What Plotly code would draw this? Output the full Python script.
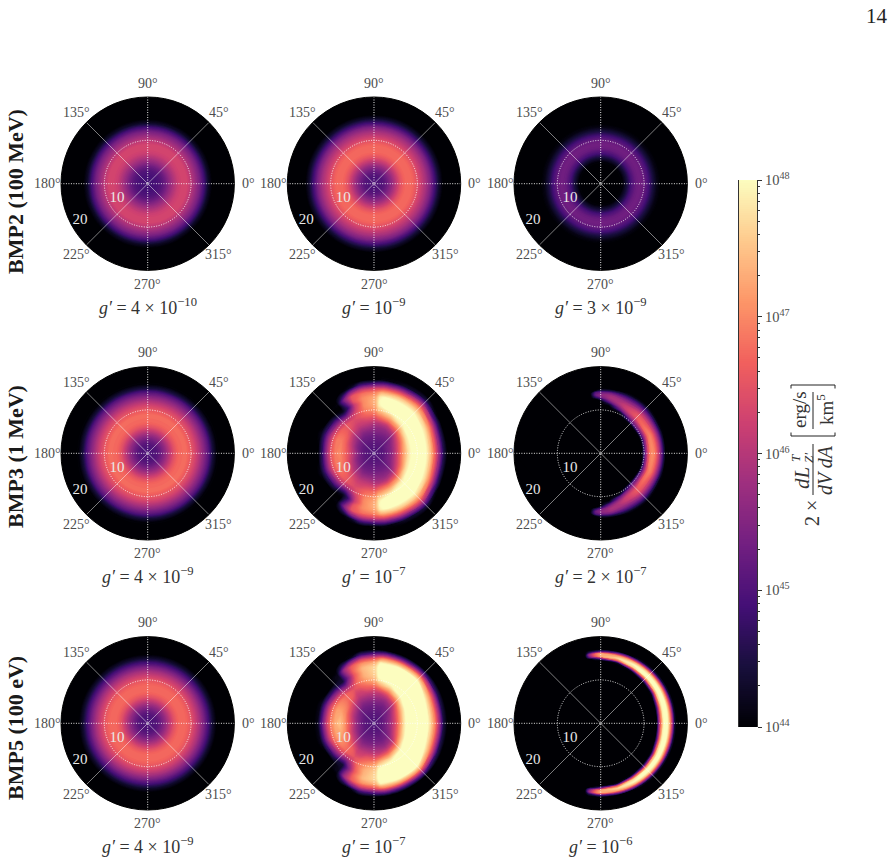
import numpy as np
import plotly.graph_objects as go

W, H = 893, 860
RMAX = 20
RADIUS_PX = 86.7
LABEL_DIST_PX = 100.5
COL_X = [147.7, 374.0, 600.7]
ROW_Y = [183.7, 453.3, 723.3]

ROW_LABELS = ["BMP2 (100 MeV)", "BMP3 (1 MeV)", "BMP5 (100 eV)"]
ROW_LABEL_Y = [192, 457, 728]
COUPLINGS = [
    ["4 × 10<sup>−10</sup>", "10<sup>−9</sup>", "3 × 10<sup>−9</sup>"],
    ["4 × 10<sup>−9</sup>", "10<sup>−7</sup>", "2 × 10<sup>−7</sup>"],
    ["4 × 10<sup>−9</sup>", "10<sup>−7</sup>", "10<sup>−6</sup>"],
]
ANGLE_TICKS = [0, 45, 90, 135, 180, 225, 270, 315]

# Radial nodes and log10 luminosity density for the ring-shaped panels
R_RING = [0.1, 1, 2, 3, 4, 5, 6, 7, 8, 9, 10, 11, 12, 13, 14, 15, 16, 17, 20]
RING_BMP2_A = [44.9, 44.9, 44.95, 45.05, 45.3, 45.65, 45.95, 46.2, 46.3, 46.3, 46.05, 45.75, 45.4, 44.9, 44.3, 44, 44, 44, 44]
RING_BMP2_B = [45, 45, 45.05, 45.3, 45.65, 46.05, 46.45, 46.7, 46.75, 46.7, 46.45, 46.15, 45.85, 45.45, 44.9, 44.35, 44, 44, 44]
RING_BMP2_C = [44, 44, 44, 44, 44, 44.05, 44.45, 44.95, 45.25, 45.35, 45.25, 44.95, 44.5, 44.15, 44, 44, 44, 44, 44]
RING_BMP3_A = [45, 45, 45.05, 45.3, 45.65, 46.05, 46.45, 46.7, 46.75, 46.75, 46.55, 46.3, 45.95, 45.55, 45.1, 44.45, 44.05, 44, 44]
RING_BMP5_A = [45, 45, 45.05, 45.3, 45.65, 46.05, 46.45, 46.7, 46.75, 46.7, 46.5, 46.2, 45.85, 45.4, 44.9, 44.35, 44, 44, 44]
THETA_RING = [0, 15, 30, 45, 60, 75, 90, 105, 120, 135, 150, 165, 180]

# Crescent panels: one row per angle (upper half, the lower half mirrors it)
R_WIDE = [0.1, 2, 3, 4, 5, 6, 7, 8, 9, 10, 11, 12, 13, 14, 15, 16, 17, 18, 20]
THETA_WIDE = [0, 25, 45, 65, 80, 84, 88, 102, 112, 120, 127, 140, 160, 180]
BMP3_B = [
    [45, 45.1, 45.3, 45.6, 46.1, 46.7, 47.3, 47.8, 48.1, 48.2, 48.2, 48.0, 47.5, 46.7, 45.7, 44.6, 44, 44, 44],
    [45, 45.1, 45.3, 45.5, 45.9, 46.4, 47.0, 47.7, 48.1, 48.2, 48.2, 48.1, 47.7, 47.0, 46.0, 44.8, 44, 44, 44],
    [45, 45.1, 45.2, 45.3, 45.5, 45.9, 46.5, 47.2, 47.85, 48.1, 48.15, 48.15, 48.0, 47.5, 46.8, 45.8, 44.6, 44, 44],
    [45, 45.1, 45.2, 45.3, 45.5, 45.7, 46.1, 46.8, 47.4, 47.95, 48.15, 48.15, 48.0, 47.5, 46.6, 45.5, 44.3, 44, 44],
    [45, 45.1, 45.2, 45.3, 45.5, 45.7, 46, 46.6, 47.1, 47.6, 48, 48.05, 48, 47.4, 46.5, 45.3, 44.1, 44, 44],
    [45, 45.1, 45.2, 45.3, 45.5, 45.7, 46, 46.5, 47, 47.5, 47.85, 47.95, 47.85, 47.3, 46.4, 45.2, 44.1, 44, 44],
    [45, 45.1, 45.2, 45.3, 45.5, 45.7, 46, 46.4, 46.8, 47.1, 47.3, 47.4, 47.3, 47.0, 46.3, 45.1, 44, 44, 44],
    [45, 45.1, 45.2, 45.3, 45.5, 45.8, 46.1, 46.4, 46.7, 46.9, 47.0, 47.0, 47.0, 46.8, 46.1, 44.9, 44, 44, 44],
    [45, 45.1, 45.2, 45.3, 45.5, 45.8, 46.1, 46.3, 46.5, 46.5, 46.3, 46.2, 46.5, 46.5, 45.6, 44.2, 44, 44, 44],
    [45, 45.1, 45.2, 45.3, 45.5, 45.8, 46.1, 46.3, 46.4, 46.2, 45.5, 44.8, 45.1, 45.4, 44.6, 44, 44, 44, 44],
    [45, 45.1, 45.2, 45.3, 45.6, 45.9, 46.2, 46.4, 46.45, 46, 45, 44.2, 44.0, 44.1, 44, 44, 44, 44, 44],
    [45, 45.1, 45.2, 45.4, 45.7, 46, 46.4, 46.6, 46.6, 46.2, 45.4, 44.6, 44, 44, 44, 44, 44, 44, 44],
    [45, 45.1, 45.25, 45.5, 45.9, 46.3, 46.7, 46.9, 46.9, 46.5, 45.8, 44.9, 44.2, 44, 44, 44, 44, 44, 44],
    [45, 45.1, 45.3, 45.7, 46.1, 46.5, 46.8, 47, 46.9, 46.5, 45.7, 44.7, 44, 44, 44, 44, 44, 44, 44],
]
BMP5_B = [
    [45, 45.2, 45.5, 45.9, 46.4, 47.1, 47.8, 48.3, 48.6, 48.7, 48.6, 48.2, 47.7, 47, 45.9, 44.5, 44, 44, 44],
    [45, 45.2, 45.4, 45.7, 46.2, 46.8, 47.5, 48.1, 48.5, 48.7, 48.7, 48.4, 47.9, 47.2, 46.1, 44.7, 44, 44, 44],
    [45, 45.1, 45.3, 45.4, 45.7, 46.1, 46.8, 47.6, 48.2, 48.5, 48.6, 48.6, 48.4, 48, 47, 45.4, 44, 44, 44],
    [45, 45.1, 45.2, 45.3, 45.5, 45.8, 46.3, 47, 47.7, 48.2, 48.5, 48.6, 48.5, 48, 47, 45.3, 44, 44, 44],
    [45, 45.1, 45.2, 45.3, 45.5, 45.8, 46.1, 46.7, 47.4, 47.9, 48.2, 48.3, 48.3, 47.9, 47, 45.4, 44, 44, 44],
    [45, 45.1, 45.2, 45.3, 45.5, 45.8, 46.1, 46.6, 47.2, 47.8, 48.1, 48.2, 48.2, 47.9, 46.9, 45.3, 44, 44, 44],
    [45, 45.1, 45.2, 45.3, 45.5, 45.8, 46.1, 46.5, 47, 47.4, 47.6, 47.7, 47.7, 47.4, 46.6, 45.2, 44, 44, 44],
    [45, 45.1, 45.2, 45.3, 45.5, 45.8, 46.1, 46.5, 46.8, 47.1, 47.3, 47.35, 47.4, 47.1, 46.3, 44.9, 44, 44, 44],
    [45, 45.1, 45.2, 45.3, 45.5, 45.8, 46.1, 46.3, 46.6, 46.8, 46.7, 46.6, 46.7, 46.6, 45.6, 44.1, 44, 44, 44],
    [45, 45.1, 45.2, 45.3, 45.5, 45.8, 46.1, 46.3, 46.5, 46.3, 45.8, 45.4, 45.6, 45.7, 44.7, 44, 44, 44, 44],
    [45, 45.1, 45.2, 45.3, 45.6, 45.9, 46.3, 46.6, 46.6, 46.1, 45.2, 44.4, 44.3, 44.2, 44, 44, 44, 44, 44],
    [45, 45.1, 45.2, 45.4, 45.8, 46.2, 46.6, 46.8, 46.8, 46.4, 45.6, 44.7, 44, 44, 44, 44, 44, 44, 44],
    [45, 45.1, 45.3, 45.6, 46, 46.5, 47, 47.2, 47.2, 46.8, 46.1, 45.1, 44.2, 44, 44, 44, 44, 44, 44],
    [45, 45.1, 45.3, 45.7, 46.2, 46.7, 47.2, 47.5, 47.3, 46.9, 46.2, 45.2, 44.2, 44, 44, 44, 44, 44, 44],
]

R_BMP3_C = [0.1, 9, 9.5, 10, 10.5, 11, 11.5, 12, 12.5, 13, 13.5, 14, 14.5, 15, 15.5, 20]
THETA_BMP3_C = [0, 20, 45, 65, 80, 90, 95, 100, 180]
BMP3_C = [
    [44, 44, 44, 44.7, 45.7, 46.5, 46.95, 47.05, 46.9, 46.5, 46, 45.3, 44.6, 44, 44, 44],
    [44, 44, 44, 44.5, 45.5, 46.2, 46.8, 46.95, 46.8, 46.4, 45.9, 45.3, 44.6, 44.1, 44, 44],
    [44, 44, 44.1, 45, 45.6, 46.1, 46.5, 46.6, 46.5, 46.2, 45.8, 45.3, 44.8, 44.3, 44, 44],
    [44, 44, 44, 44, 44.3, 45.3, 45.8, 46.1, 46.1, 45.9, 45.6, 45.2, 44.7, 44.2, 44, 44],
    [44, 44, 44, 44, 44, 44, 44.4, 45.2, 45.7, 45.9, 45.8, 45.4, 44.6, 44, 44, 44],
    [44, 44, 44, 44, 44, 44, 44, 44, 44.6, 45.4, 45.6, 45.3, 44.4, 44, 44, 44],
    [44, 44, 44, 44, 44, 44, 44, 44, 44, 44.8, 45.3, 45.1, 44.1, 44, 44, 44],
    [44] * 16,
    [44] * 16,
]

R_BMP5_C = [0.1, 12, 12.5, 13, 13.5, 14, 14.5, 15, 15.5, 16, 16.5, 17, 17.5, 20]
THETA_BMP5_C = [0, 15, 30, 45, 60, 75, 90, 95, 100, 103, 180]
BMP5_C = [
    [44, 44, 44, 44.1, 45.8, 47, 47.9, 48.2, 47.9, 47.1, 45.9, 44.4, 44, 44],
    [44, 44, 44, 44, 45.2, 46.8, 47.8, 48.2, 48, 47.2, 46, 44.5, 44, 44],
    [44, 44, 44, 44, 44.2, 45.8, 47.4, 48.1, 48.1, 47.4, 46.1, 44.5, 44, 44],
    [44, 44, 44, 44, 44, 45, 46.9, 48, 48.1, 47.5, 46.1, 44.5, 44, 44],
    [44, 44, 44, 44, 44, 44.2, 46.1, 47.7, 48, 47.4, 45.9, 44.3, 44, 44],
    [44, 44, 44, 44, 44, 44, 44.3, 46.7, 47.7, 47.2, 45.6, 44, 44, 44],
    [44, 44, 44, 44, 44, 44, 44, 45.5, 47.3, 47.3, 45.1, 44, 44, 44],
    [44, 44, 44, 44, 44, 44, 44, 44.6, 46.5, 46.7, 44.8, 44, 44, 44],
    [44, 44, 44, 44, 44, 44, 44, 44, 45.2, 45.6, 44.5, 44, 44, 44],
    [44] * 14,
    [44] * 14,
]

PANELS = [
    [(R_RING, THETA_RING, [RING_BMP2_A] * 13), (R_RING, THETA_RING, [RING_BMP2_B] * 13), (R_RING, THETA_RING, [RING_BMP2_C] * 13)],
    [(R_RING, THETA_RING, [RING_BMP3_A] * 13), (R_WIDE, THETA_WIDE, BMP3_B), (R_BMP3_C, THETA_BMP3_C, BMP3_C)],
    [(R_RING, THETA_RING, [RING_BMP5_A] * 13), (R_WIDE, THETA_WIDE, BMP5_B), (R_BMP5_C, THETA_BMP5_C, BMP5_C)],
]

CB_MAJOR = [44, 45, 46, 47, 48]
CB_LABELS = ["10<sup>44</sup>", "10<sup>45</sup>", "10<sup>46</sup>", "10<sup>47</sup>", "10<sup>48</sup>"]

SERIF = "Liberation Serif"
GREY = "#4d4d4d"


def px(x):
    return x / W


def py(y):
    return 1 - y / H


def note(x, y, text, size, color="#333333", angle=0):
    return dict(xref="paper", yref="paper", x=px(x), y=py(y), xanchor="center", yanchor="middle",
                showarrow=False, textangle=angle, text=text,
                font=dict(family=SERIF, size=size, color=color))


fig = go.Figure()
layout = dict(
    width=W, height=H, autosize=False, margin=dict(l=0, r=0, t=0, b=0),
    paper_bgcolor="white", plot_bgcolor="rgba(0,0,0,0)", showlegend=False,
    font=dict(family=SERIF, color=GREY),
)
shapes, annotations = [], []

spokes_dot_t = [0, 0, 180, None, 90, 90, 270]
spokes_dot_r = [RMAX, 0, RMAX, None, RMAX, 0, RMAX]
spokes_solid_t = [45, 45, 225, None, 135, 135, 315]
spokes_solid_r = [RMAX, 0, RMAX, None, RMAX, 0, RMAX]

n = 0
for i, row in enumerate(PANELS):
    for j, (radii, thetas, table) in enumerate(row):
        n += 1
        sfx = "" if n == 1 else str(n)
        xa, ya, pol = f"x{sfx}", f"y{sfx}", f"polar{sfx}"
        cx, cy = COL_X[j], ROW_Y[i]
        dom_x = [px(cx - RADIUS_PX), px(cx + RADIUS_PX)]
        dom_y = [py(cy + RADIUS_PX), py(cy - RADIUS_PX)]

        layout[f"xaxis{sfx}"] = dict(domain=dom_x, range=[-RMAX, RMAX], visible=False, fixedrange=True,
                                     anchor=ya, automargin=False)
        layout[f"yaxis{sfx}"] = dict(domain=dom_y, range=[-RMAX, RMAX], visible=False, fixedrange=True,
                                     anchor=xa, automargin=False)

        # Full circle of angle nodes, lower half mirrored from the upper half
        half = np.array(table, dtype=float)
        th = np.array(thetas, dtype=float)
        theta_full = np.concatenate([-th[:0:-1], th])
        z_full = np.vstack([half[:0:-1], half])
        r = np.array(radii, dtype=float)
        rr, tt = np.meshgrid(r, theta_full)
        xx = rr * np.cos(np.radians(tt))
        yy = rr * np.sin(np.radians(tt))

        cid = f"carpet{n}"
        fig.add_trace(go.Carpet(
            carpet=cid, a=r, b=theta_full, x=xx, y=yy, xaxis=xa, yaxis=ya,
            aaxis=dict(smoothing=0, showgrid=False, showline=False, showticklabels="none",
                       startline=False, endline=False, minorgridcount=0),
            baxis=dict(smoothing=0, showgrid=False, showline=False, showticklabels="none",
                       startline=False, endline=False, minorgridcount=0),
        ))
        fig.add_trace(go.Contourcarpet(
            carpet=cid, a=r, b=theta_full, z=z_full, xaxis=xa, yaxis=ya,
            colorscale="Magma", zmin=44, zmax=48, showscale=False, autocontour=False,
            contours=dict(start=44.03, end=48, size=0.04, coloring="fill", showlines=False),
            line=dict(width=0),
        ))
        shapes.append(dict(type="circle", xref=xa, yref=ya, x0=-RMAX, x1=RMAX, y0=-RMAX, y1=RMAX,
                           fillcolor="#000004", line=dict(width=0), layer="below"))

        layout[pol] = dict(
            domain=dict(x=dom_x, y=dom_y), bgcolor="rgba(0,0,0,0)",
            radialaxis=dict(range=[0, RMAX], tickvals=[10], showticklabels=False, ticks="",
                            showline=False, showgrid=True, griddash="1px,1.5px",
                            gridcolor="rgba(255,255,255,0.85)", gridwidth=0.8),
            angularaxis=dict(tickvals=ANGLE_TICKS, showticklabels=False, showgrid=False,
                             linecolor="black", linewidth=1, ticks="", direction="counterclockwise"),
        )
        fig.add_trace(go.Scatterpolar(r=spokes_solid_r, theta=spokes_solid_t, subplot=pol, mode="lines",
                                      line=dict(color="rgba(255,255,255,0.7)", width=0.7), hoverinfo="skip"))
        fig.add_trace(go.Scatterpolar(r=spokes_dot_r, theta=spokes_dot_t, subplot=pol, mode="lines",
                                      line=dict(color="rgba(255,255,255,0.9)", width=1, dash="1px,1.5px"), hoverinfo="skip"))
        fig.add_trace(go.Scatterpolar(r=[7.85, 17.8], theta=[205.6, 208.6], subplot=pol, mode="text",
                                      text=["10", "20"], textposition="middle center",
                                      textfont=dict(family=SERIF, size=15, color="#e8e8e8"), hoverinfo="skip"))

        # Angle labels are centred on a circle just outside the disc
        for a in ANGLE_TICKS:
            lx = cx + LABEL_DIST_PX * np.cos(np.radians(a))
            ly = cy - LABEL_DIST_PX * np.sin(np.radians(a))
            annotations.append(note(lx, ly, f"{a}°", 14, GREY))

        annotations.append(note(cx, cy + 122.5, f"<i>g′</i> = {COUPLINGS[i][j]}", 18))
    annotations.append(note(15, ROW_LABEL_Y[i], f"<b>{ROW_LABELS[i]}</b>", 22, "#1a1a1a", -90))

# Colour scale drawn as its own strip with logarithmic decade ticks
cb_levels = np.linspace(44, 48, 256)
minor_ticks = [d + np.log10(m) for d in CB_MAJOR[:-1] for m in range(2, 10)]
fig.add_trace(go.Heatmap(x=[0, 1], y=cb_levels, z=np.column_stack([cb_levels, cb_levels]),
                         colorscale="Magma", zmin=44, zmax=48, showscale=False, xaxis="x10", yaxis="y10",
                         hoverinfo="skip"))
layout["xaxis10"] = dict(domain=[px(739), px(757)], range=[0, 1], visible=False, anchor="y10",
                         fixedrange=True, automargin=False)
layout["yaxis10"] = dict(domain=[py(727), py(180)], range=[44, 48], anchor="x10", side="right", showgrid=False,
                         zeroline=False, tickvals=CB_MAJOR, ticktext=CB_LABELS, ticks="outside", ticklen=4,
                         tickcolor="#333333", showline=True, linecolor="#333333", linewidth=1, mirror=True,
                         tickfont=dict(family=SERIF, size=14.5, color=GREY), fixedrange=True, automargin=False,
                         minor=dict(tickvals=minor_ticks, ticks="outside", ticklen=2, tickcolor="#333333", showgrid=False))

# Rotated fraction label next to the colour scale
LABEL = [
    (802, 478, "<i>dL</i>", 21),
    (795, 458, "<i>T</i>", 13),
    (808, 458, "<i>Z′</i>", 13),
    (825, 470, "<i>dV dA</i>", 20),
    (812, 513, "2 ×", 20),
    (800, 410, "erg/s", 19),
    (825, 410, "km<sup>5</sup>", 19),
]
for x, y, txt, size in LABEL:
    annotations.append(note(x, y, txt, size, angle=-90))
for x0, y0, x1, y1 in [(813, 444, 813, 495), (813, 392, 813, 429)]:
    shapes.append(dict(type="line", xref="paper", yref="paper", x0=px(x0), y0=py(y0), x1=px(x1), y1=py(y1),
                       line=dict(color="#222222", width=1)))
for y, tip in [(385, 388.5), (436, 432.5)]:
    shapes.append(dict(type="path", xref="paper", yref="paper",
                       path=f"M {px(791)} {py(tip)} L {px(791)} {py(y)} L {px(835)} {py(y)} L {px(835)} {py(tip)}",
                       line=dict(color="#222222", width=1)))

annotations.append(note(877, 16, "14", 21, "#222222"))

layout["shapes"] = shapes
layout["annotations"] = annotations
fig.update_layout(**layout)
fig.write_html("out.html")
